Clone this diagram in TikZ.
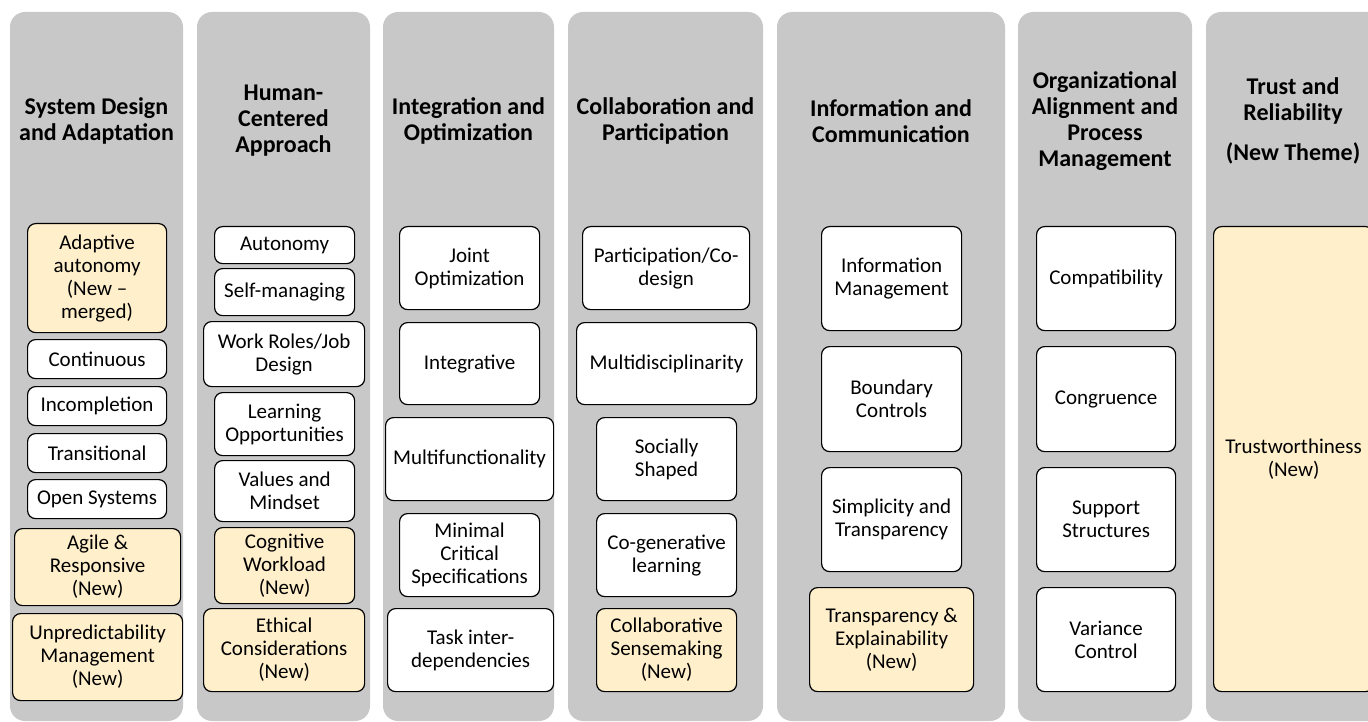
\documentclass[tikz,border=0pt]{standalone}
\usepackage{fontspec}
\setmainfont{Carlito}
\definecolor{panelgray}{HTML}{C8C8C8}
\definecolor{newfill}{HTML}{FFEFCB}
\tikzset{
  panel/.style={fill=panelgray, rounded corners=15pt},
  head/.style={font=\fontsize{24}{26}\selectfont\bfseries, align=center},
  item/.style={draw=black, line width=1.2pt, rounded corners=8pt, fill=white,
    align=center, inner sep=2pt, anchor=north west,
    font=\fontsize{21}{23}\selectfont},
  newitem/.style={item, fill=newfill}
}
\begin{document}
\begin{tikzpicture}[x=1pt,y=-1pt]
\useasboundingbox (0,0) rectangle (1368,722);
\clip (0,0) rectangle (1368,722);
% theme columns
\foreach \xa/\xb in {10/183,197/370,383/554,568/763,777/1005,1018/1192,1206/1395}
  \fill[panel] (\xa,12) rectangle (\xb,721);
% theme headings
\node[head] (h1) at (96.5,121) {System Design\\and Adaptation};
\node[head] (h2) at (283.5,121) {Human-\\Centered\\Approach};
\node[head] (h3) at (468.5,121) {Integration and\\Optimization};
\node[head] (h4) at (665.5,121) {Collaboration and\\Participation};
\node[head] (h5) at (891,121) {Information and\\Communication};
\node[head] (h6) at (1105,121) {Organizational\\Alignment and\\Process\\Management};
\node[head] (h7) at (1293,121) {Trust and\\Reliability\\[14pt](New Theme)};
% original principles
\foreach \nm/\xa/\ya/\xb/\yb/\txt in {
  cont/27/339/166/378/Continuous,
  incomp/27/386/166/425/Incompletion,
  trans/27/433/166/472/Transitional,
  opensys/27/479/166/518/Open Systems,
  auton/214/226/354/263/Autonomy,
  selfman/214/268/354/315/Self-managing,
  workrole/203/321/364/386/{Work Roles/Job\\Design},
  learn/214/392/354/455/{Learning\\Opportunities},
  values/214/460/354/521/{Values and\\Mindset},
  jointopt/399/226/539/309/{Joint\\Optimization},
  integ/399/322/539/404/Integrative,
  multifun/385/417/553/500/Multifunctionality,
  mincrit/399/513/539/596/{Minimal\\Critical\\Specifications},
  taskdep/387/608/553/691/{Task inter-\\dependencies},
  partic/582/226/749/309/{Participation/Co-\\design},
  multidis/576/322/756/404/Multidisciplinarity,
  social/596/417/736/500/{Socially\\Shaped},
  cogen/596/513/736/596/{Co-generative\\learning},
  infoman/821/226/961/330/{Information\\Management},
  boundary/821/346/961/451/{Boundary\\Controls},
  simpl/821/467/961/571/{Simplicity and\\Transparency},
  compat/1036/226/1175/330/Compatibility,
  congr/1036/346/1175/451/Congruence,
  support/1036/467/1175/571/{Support\\Structures},
  variance/1036/587/1175/691/{Variance\\Control}}
  \node[item, minimum width={(\xb-\xa)*1pt}, minimum height={(\yb-\ya)*1pt}] (\nm) at (\xa,\ya) {\txt};
% new principles
\foreach \nm/\xa/\ya/\xb/\yb/\txt in {
  adaptaut/27/223/166/332/{Adaptive\\autonomy\\(New --\\merged)},
  agile/14/528/180/605/{Agile \&\\Responsive\\(New)},
  unpred/12/613/182/700/{Unpredictability\\Management\\(New)},
  cogwork/214/527/354/603/{Cognitive\\Workload\\(New)},
  ethical/203/608/364/691/{Ethical\\Considerations\\(New)},
  collab/596/608/736/691/{Collaborative\\Sensemaking\\(New)},
  transexp/809/587/973/691/{Transparency \&\\Explainability\\(New)},
  trust/1213/226/1373/691/{Trustworthiness\\(New)}}
  \node[newitem, minimum width={(\xb-\xa)*1pt}, minimum height={(\yb-\ya)*1pt}] (\nm) at (\xa,\ya) {\txt};
\end{tikzpicture}
\end{document}
